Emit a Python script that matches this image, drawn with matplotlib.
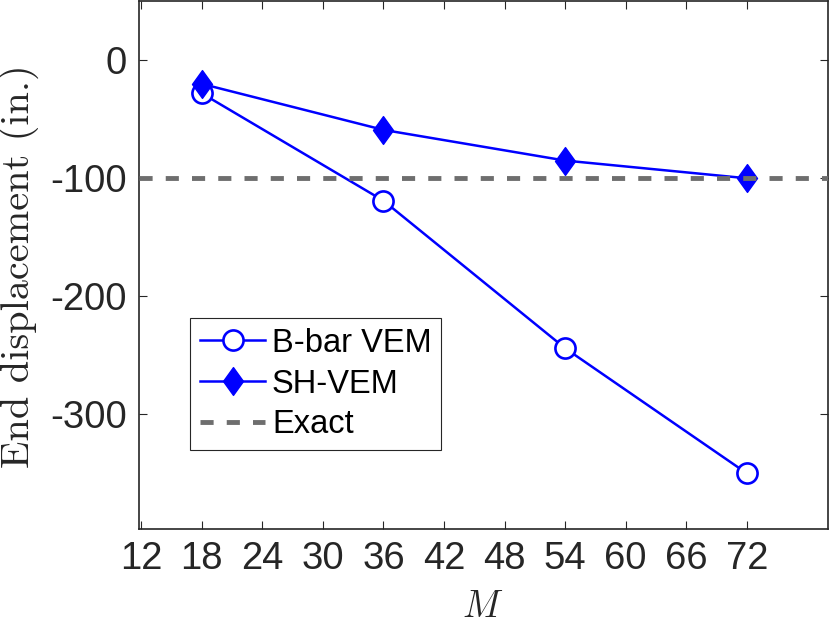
import matplotlib
matplotlib.use("Agg")
import matplotlib.pyplot as plt
from matplotlib.path import Path

plt.rcParams['font.family'] = ['Liberation Sans', 'DejaVu Sans']
plt.rcParams['mathtext.fontset'] = 'cm'
plt.rcParams['axes.unicode_minus'] = False

# data
M = [18, 36, 54, 72]
bbar_vem = [-28, -119, -244, -350]
sh_vem = [-20, -59, -85, -100]
exact = -100
xticks = [12, 18, 24, 30, 36, 42, 48, 54, 60, 66, 72]
yticks = [0, -100, -200, -300]

# matlab-like tall diamond
diamond = Path([(0, 1), (0.72, 0), (0, -1), (-0.72, 0), (0, 1)],
               [Path.MOVETO, Path.LINETO, Path.LINETO, Path.LINETO, Path.CLOSEPOLY])

fig = plt.figure(figsize=(8.3, 6.25), dpi=100)
ax = fig.add_axes([0.168, 0.154, 0.829, 0.844])

ax.plot(M, bbar_vem, color='#0000ff', lw=1.8, marker='o', ms=14.5,
        mfc='white', mec='#0000ff', mew=1.9, label='B-bar VEM')
ax.plot(M, sh_vem, color='#0000ff', lw=1.8, marker=diamond, ms=20,
        mfc='#0000ff', mec='#0000ff', label='SH-VEM')
ax.axhline(exact, color='#6e6e6e', lw=3.5, linestyle=(0, (2.7, 2.7)), label='Exact', zorder=3)

ax.set_xlim(11.83, 80)
ax.set_ylim(-397, 50)
ax.set_xticks(xticks)
ax.set_yticks(yticks)
ax.tick_params(direction='in', length=6, width=0.8, colors='#262626',
               labelsize=27.5, top=True, right=True, pad=9)
for lab in ax.get_xticklabels() + ax.get_yticklabels():
    lab.set_color('#262626')
for s in ax.spines.values():
    s.set_color('#262626')
    s.set_linewidth(1.2)

# axis labels (latex-looking), placed in figure coords
fig.text(0.581, 1 - 607 / 625, r'$M$', fontsize=27, ha='center', va='center', color='#262626')
fig.text(19 / 830, 1 - 266 / 625, 'End displacement (in.)', family='cmr10', fontsize=29,
         rotation=90, ha='center', va='center', color='#262626')

leg = ax.legend(loc='lower left', bbox_to_anchor=(0.074, 0.149), fontsize=23.5,
                fancybox=False, edgecolor='#262626', framealpha=1,
                handlelength=2.0, handletextpad=0.2, borderpad=0.3,
                labelspacing=0.3, borderaxespad=0)
leg.get_frame().set_linewidth(0.8)

fig.savefig('out.png', dpi=100)
